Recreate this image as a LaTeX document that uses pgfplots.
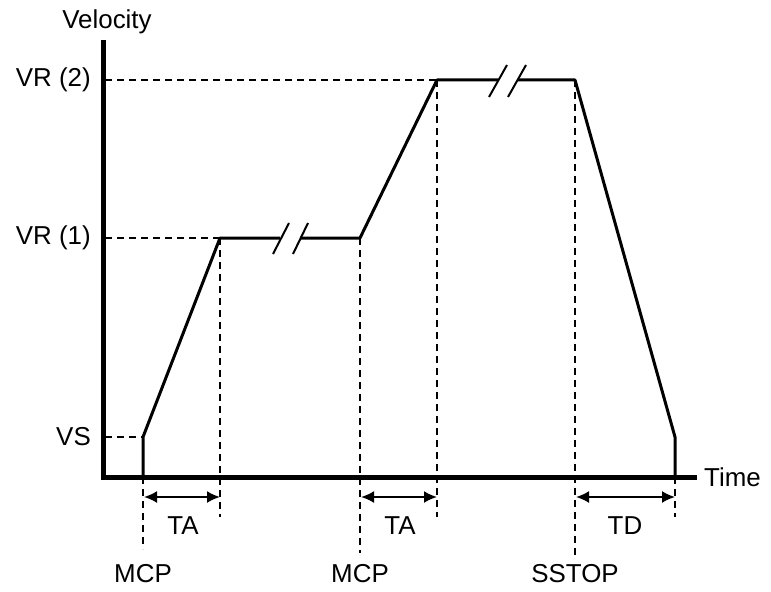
\documentclass[border=0pt]{standalone}
\usepackage{pgfplots}
\pgfplotsset{compat=1.18}
\usepackage{fontspec}
\setmainfont{Liberation Sans}
\usetikzlibrary{arrows.meta}
\newcommand{\lblfont}{\fontsize{26}{31}\selectfont}
\tikzset{lbl/.style={font=\lblfont, inner sep=0pt}}
\begin{document}
\begin{tikzpicture}
\begin{axis}[
  width=771bp, height=592bp, scale only axis,
  xmin=0, xmax=771, ymin=0, ymax=592, y dir=reverse,
  hide axis, clip=false,
]
\path (axis cs:0,0) rectangle (axis cs:771,592);
% axes
\addplot[black, line width=5bp, mark=none] coordinates {(103,40) (103,479.5)};
\addplot[black, line width=5bp, mark=none] coordinates {(100.5,477) (697,477)};
% dashed guides
\pgfplotsset{guide/.style={black, line width=1.7bp, dash pattern=on 7bp off 5bp, mark=none}}
\addplot[guide] coordinates {(105,80) (437,80)};
\addplot[guide] coordinates {(105,238) (220,238)};
\addplot[guide] coordinates {(105,437) (143,437)};
\addplot[guide] coordinates {(220,238) (220,517)};
\addplot[guide] coordinates {(143,477) (143,549)};
\addplot[guide] coordinates {(360,238) (360,553)};
\addplot[guide] coordinates {(437,80) (437,517)};
\addplot[guide] coordinates {(575,80) (575,556)};
\addplot[guide] coordinates {(675,477) (675,517)};
% profile
\pgfplotsset{prof/.style={black, line width=3bp, mark=none, line join=round}}
\addplot[prof] coordinates {(143,477) (143,437) (220,238) (280,238)};
\addplot[prof] coordinates {(300,238) (360,238) (437,80) (498,80)};
\addplot[prof] coordinates {(518,80) (575,80) (675,437) (675,477)};
% break marks
\pgfplotsset{brk/.style={black, line width=2bp, mark=none}}
\addplot[brk] coordinates {(273,254) (289,223)};
\addplot[brk] coordinates {(293,254) (308,223)};
\addplot[brk] coordinates {(489,97) (507,65)};
\addplot[brk] coordinates {(508,97) (526,65)};
% time arrows
\pgfplotsset{tarr/.style={black, line width=2bp, mark=none, {Latex[length=13bp,width=12bp]}-{Latex[length=13bp,width=12bp]}}}
\addplot[tarr] coordinates {(144,497) (220,497)};
\addplot[tarr] coordinates {(361,497) (437,497)};
\addplot[tarr] coordinates {(576,497) (675,497)};
% labels
\node[lbl, anchor=center] at (axis cs:107,22) {Velocity};
\node[lbl, anchor=east] at (axis cs:91,80) {VR (2)};
\node[lbl, anchor=east] at (axis cs:91,238) {VR (1)};
\node[lbl, anchor=east] at (axis cs:91,437) {VS};
\node[lbl, anchor=west] at (axis cs:704,477) {Time};
\node[lbl] at (axis cs:183,526) {TA};
\node[lbl] at (axis cs:400,526) {TA};
\node[lbl] at (axis cs:625,526) {TD};
\node[lbl] at (axis cs:143,574) {MCP};
\node[lbl] at (axis cs:360,574) {MCP};
\node[lbl] at (axis cs:575,574) {SSTOP};
\end{axis}
\end{tikzpicture}
\end{document}
